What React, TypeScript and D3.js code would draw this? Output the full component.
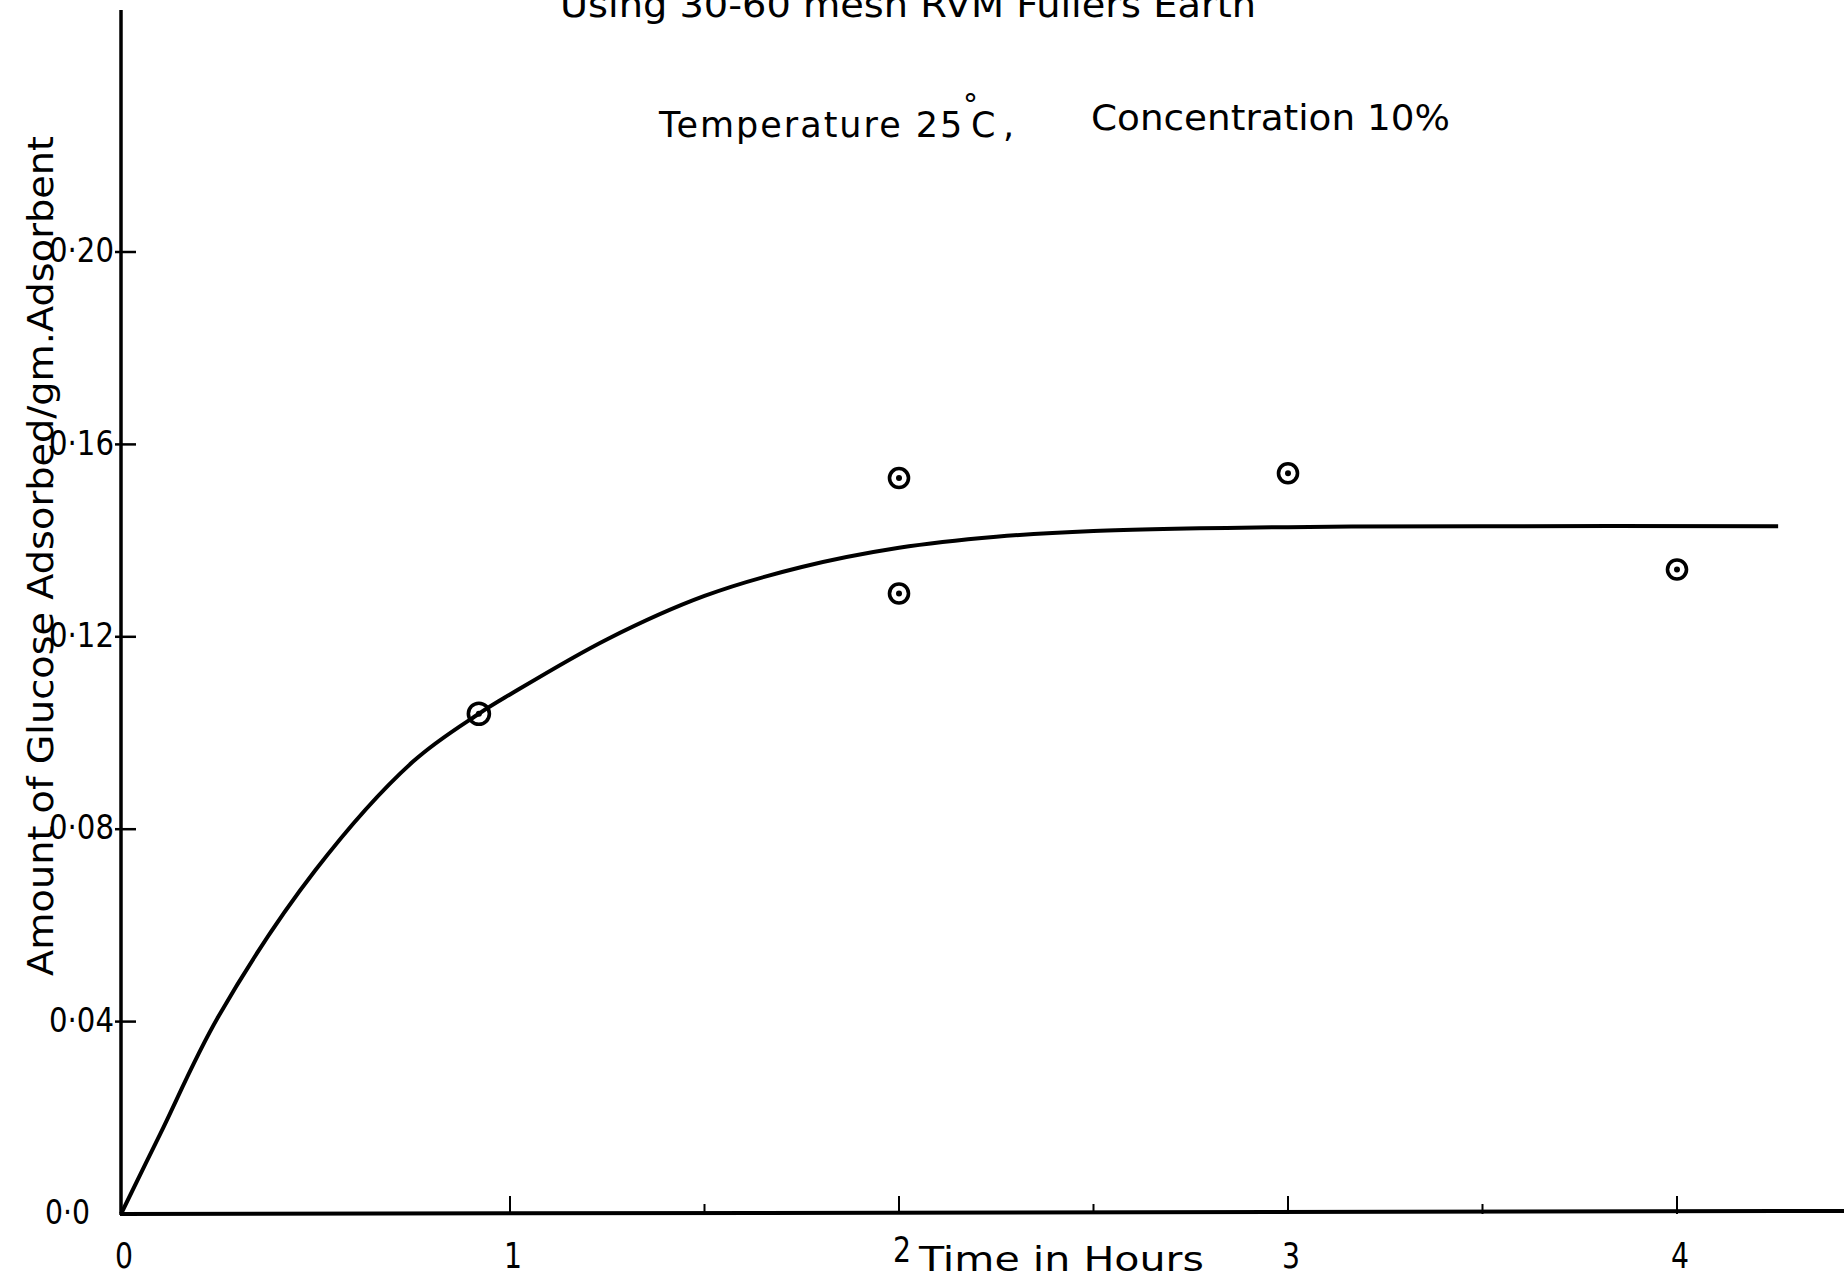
import React from "react";
import * as d3 from "d3";

// Observed data points (time in hours, glucose adsorbed per gm adsorbent)
const pointTime = [0.92, 2.0, 2.0, 3.0, 4.0];
const pointAmount = [0.104, 0.153, 0.129, 0.154, 0.134];

// Hand-drawn fitted curve
const curveTime = [0, 0.1, 0.25, 0.5, 0.75, 0.92, 1.0, 1.25, 1.5, 1.75, 2.0, 2.25, 2.5, 3.0, 3.5, 4.26];
const curveAmount = [0, 0.0165, 0.041, 0.0715, 0.094, 0.104, 0.108, 0.1195, 0.1285, 0.1345, 0.1385, 0.1408, 0.142, 0.1428, 0.143, 0.143];

const yTickValues = [0, 0.04, 0.08, 0.12, 0.16, 0.2];
const yTickLabels = ["0·0", "0·04", "0·08", "0·12", "0·16", "0·20"];
const xTickValues = [0, 1, 2, 3, 4];
const xTickLabels = ["0", "1", "2", "3", "4"];
const xMinorTicks = [1.5, 2.5, 3.5];

const W = 1844;
const H = 1282;

export default function App() {
  const x = d3.scaleLinear().domain([0, 4]).range([121, 1677]);
  const y = d3.scaleLinear().domain([0, 0.2]).range([1214, 252]);

  const line = d3
    .line<number>()
    .x((_, i) => x(curveTime[i]))
    .y((d) => y(d))
    .curve(d3.curveCatmullRom.alpha(0.5));

  const curvePath = line(curveAmount) || "";
  const font = "'DejaVu Sans', sans-serif";

  return (
    <svg
      width={W}
      height={H}
      viewBox={`0 0 ${W} ${H}`}
      style={{ position: "absolute", left: 0, top: 0, background: "#fff" }}
    >
      <rect x={0} y={0} width={W} height={H} fill="#fff" />

      {/* Titles */}
      <text
        x={560}
        y={17}
        fontFamily={font}
        fontSize={36}
        textLength={696}
        lengthAdjust="spacingAndGlyphs"
        fill="#000"
      >
        Using 30-60 mesh RVM Fullers Earth
      </text>
      <text y={137} fontFamily={font} fontSize={35} fill="#000">
        <tspan x={659} letterSpacing={2}>
          Temperature 25
        </tspan>
        <tspan x={971}>C</tspan>
        <tspan x={963} y={115} fontSize={30}>
          °
        </tspan>
        <tspan x={1003} y={137}>
          ,
        </tspan>
      </text>
      <text
        x={1091}
        y={130}
        fontFamily={font}
        fontSize={35}
        textLength={359}
        lengthAdjust="spacingAndGlyphs"
        fill="#000"
      >
        Concentration 10%
      </text>

      {/* Y axis label */}
      <text
        transform={`translate(53, 556) rotate(-90)`}
        textAnchor="middle"
        fontFamily={font}
        fontSize={36}
        textLength={840}
        lengthAdjust="spacingAndGlyphs"
        fill="#000"
      >
        Amount of Glucose Adsorbed/gm.Adsorbent
      </text>

      {/* Axes */}
      <line x1={x(0)} y1={10} x2={x(0)} y2={y(0) + 1} stroke="#000" strokeWidth={3.5} />
      <line x1={x(0) - 1} y1={y(0)} x2={W} y2={y(0) - 3} stroke="#000" strokeWidth={4} />

      {/* Y ticks */}
      {yTickValues.map((v, i) => (
        <g key={"yt" + i}>
          {i > 0 && (
            <line x1={x(0) - 6} x2={x(0) + 15} y1={y(v)} y2={y(v)} stroke="#000" strokeWidth={2.5} />
          )}
          <text
            x={i === 0 ? 90 : 114}
            y={y(v) - 2}
            dy="0.36em"
            textAnchor="end"
            fontFamily={font}
            fontSize={34}
            textLength={i === 0 ? 45 : 65}
            lengthAdjust="spacingAndGlyphs"
            fill="#000"
          >
            {yTickLabels[i]}
          </text>
        </g>
      ))}

      {/* X ticks */}
      {xTickValues.map((v, i) => (
        <g key={"xt" + i}>
          {i > 0 && (
            <line x1={x(v)} x2={x(v)} y1={y(0)} y2={y(0) - 18} stroke="#000" strokeWidth={2} />
          )}
          <text
            x={x(v) + 3}
            y={i === 2 ? 1262 : 1268}
            textAnchor="middle"
            fontFamily={font}
            fontSize={36}
            textLength={18}
            lengthAdjust="spacingAndGlyphs"
            fill="#000"
          >
            {xTickLabels[i]}
          </text>
        </g>
      ))}
      {xMinorTicks.map((v, i) => (
        <line key={"xm" + i} x1={x(v)} x2={x(v)} y1={y(0)} y2={y(0) - 10} stroke="#000" strokeWidth={2} />
      ))}

      {/* X axis label */}
      <text
        x={919}
        y={1271}
        fontFamily={font}
        fontSize={33}
        textLength={285}
        lengthAdjust="spacingAndGlyphs"
        fill="#000"
      >
        Time in Hours
      </text>

      {/* Fitted curve */}
      <path d={curvePath} fill="none" stroke="#000" strokeWidth={4} />

      {/* Data points */}
      {pointTime.map((t, i) => (
        <g key={"pt" + i}>
          <circle cx={x(t)} cy={y(pointAmount[i])} r={i === 0 ? 10.5 : 9.5} fill="none" stroke="#000" strokeWidth={3.6} />
          <circle cx={x(t)} cy={y(pointAmount[i])} r={3} fill="#000" />
        </g>
      ))}
    </svg>
  );
}
